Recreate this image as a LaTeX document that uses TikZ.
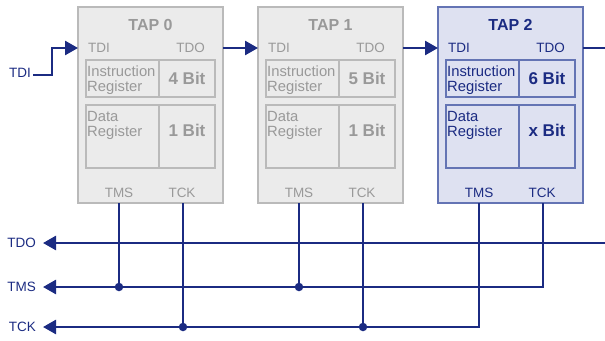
\documentclass[tikz,border=0pt]{standalone}
\usepackage{fontspec}
\setmainfont{Liberation Sans}
\usetikzlibrary{arrows.meta}
\definecolor{navy}{HTML}{1B2B82}
\definecolor{gfill}{HTML}{EBEBEB}
\definecolor{gdraw}{HTML}{BABABA}
\definecolor{gtext}{HTML}{999999}
\definecolor{bfill}{HTML}{DEE1F1}
\definecolor{bdraw}{HTML}{6474B4}
\tikzset{
  wire/.style={draw=navy, line width=2.6pt},
  arr/.style={wire, -{Triangle[length=13pt,width=14pt]}},
  dot/.style={circle, fill=navy, inner sep=0pt, minimum size=8.5pt},
  lbl/.style={inner sep=0pt, text=navy, font=\fontsize{13.5}{15}\selectfont},
  pin/.style={inner sep=0pt, font=\fontsize{13.5}{15}\selectfont},
  regtxt/.style={inner sep=0pt, font=\fontsize{14.8}{15}\selectfont},
  bittxt/.style={inner sep=0pt, font=\fontsize{17}{18}\selectfont\bfseries},
  ttl/.style={inner sep=0pt, font=\fontsize{16}{18}\selectfont\bfseries},
  box/.style={line width=1.4pt, anchor=north west, inner sep=0pt, outer sep=0pt},
}
\begin{document}
\begin{tikzpicture}[x=1pt,y=-1pt]
\useasboundingbox (0,0) rectangle (605,340);
\foreach \i/\x/\ib/\db/\fc/\dc/\tc in {0/78/4/1/gfill/gdraw/gtext, 1/258/5/1/gfill/gdraw/gtext, 2/438/6/x/bfill/bdraw/navy}{
  \node[box, draw=\dc, fill=\fc, minimum width=145pt, minimum height=196pt] (tap\i) at (\x,7) {};
  \node[box, draw=\dc, minimum width=73pt, minimum height=37pt] (ir\i) at (\x+8,60) {};
  \node[box, draw=\dc, minimum width=56pt, minimum height=37pt] (irb\i) at (\x+81,60) {};
  \node[box, draw=\dc, minimum width=73pt, minimum height=63pt] (dr\i) at (\x+8,105) {};
  \node[box, draw=\dc, minimum width=56pt, minimum height=63pt] (drb\i) at (\x+81,105) {};
  \node[ttl, text=\tc, anchor=base] (t\i) at (\x+72.5,30) {TAP \i};
  \node[pin, text=\tc, anchor=base west] (ti\i) at (\x+10,52.7) {TDI};
  \node[pin, text=\tc, anchor=base east] (to\i) at (\x+127,52.7) {TDO};
  \node[regtxt, text=\tc, anchor=base west] (ia\i) at (\x+9,76) {Instruction};
  \node[regtxt, text=\tc, anchor=base west] (ib\i) at (\x+9,91) {Register};
  \node[bittxt, text=\tc, anchor=base] (ibt\i) at (\x+109,84) {\ib\ Bit};
  \node[regtxt, text=\tc, anchor=base west] (da\i) at (\x+9,121) {Data};
  \node[regtxt, text=\tc, anchor=base west] (db\i) at (\x+9,136) {Register};
  \node[bittxt, text=\tc, anchor=base] (dbt\i) at (\x+109,136) {\db\ Bit};
  \node[pin, text=\tc, anchor=base] (pms\i) at (\x+41,197.6) {TMS};
  \node[pin, text=\tc, anchor=base] (pck\i) at (\x+104,197.6) {TCK};
  \coordinate (tms\i) at (\x+41,203);
  \coordinate (tck\i) at (\x+105,203);
  \coordinate (tdi\i) at (\x,48);
  \coordinate (tdo\i) at (\x+145,48);
}
% chain
\coordinate (tdiIn) at (33,75);
\coordinate (tdoOut) at (605,48);
\node[lbl, anchor=east] (lTDI) at (31,73) {TDI};
\draw[arr] (tdiIn) -- (52,75) -- (52,48) -- (tdi0);
\draw[arr] (tdo0) -- (tdi1);
\draw[arr] (tdo1) -- (tdi2);
\draw[wire] (tdo2) -- (tdoOut);
% buses
\coordinate (busTDOr) at (605,243);
\coordinate (busTDOl) at (43,243);
\coordinate (busTMSl) at (43,287);
\coordinate (busTCKl) at (43,327);
\node[lbl, anchor=east] (lTDO) at (36,243) {TDO};
\node[lbl, anchor=east] (lTMS) at (36,287) {TMS};
\node[lbl, anchor=east] (lTCK) at (36,327) {TCK};
\draw[arr] (busTDOr) -- (busTDOl);
\draw[arr] (tck2) |- (busTMSl);
\draw[arr] (tms2) |- (busTCKl);
\draw[wire] (tms0) -- (tms0 |- busTMSl) node[dot] (j0) {};
\draw[wire] (tms1) -- (tms1 |- busTMSl) node[dot] (j1) {};
\draw[wire] (tck0) -- (tck0 |- busTCKl) node[dot] (j2) {};
\draw[wire] (tck1) -- (tck1 |- busTCKl) node[dot] (j3) {};
\end{tikzpicture}
\end{document}
